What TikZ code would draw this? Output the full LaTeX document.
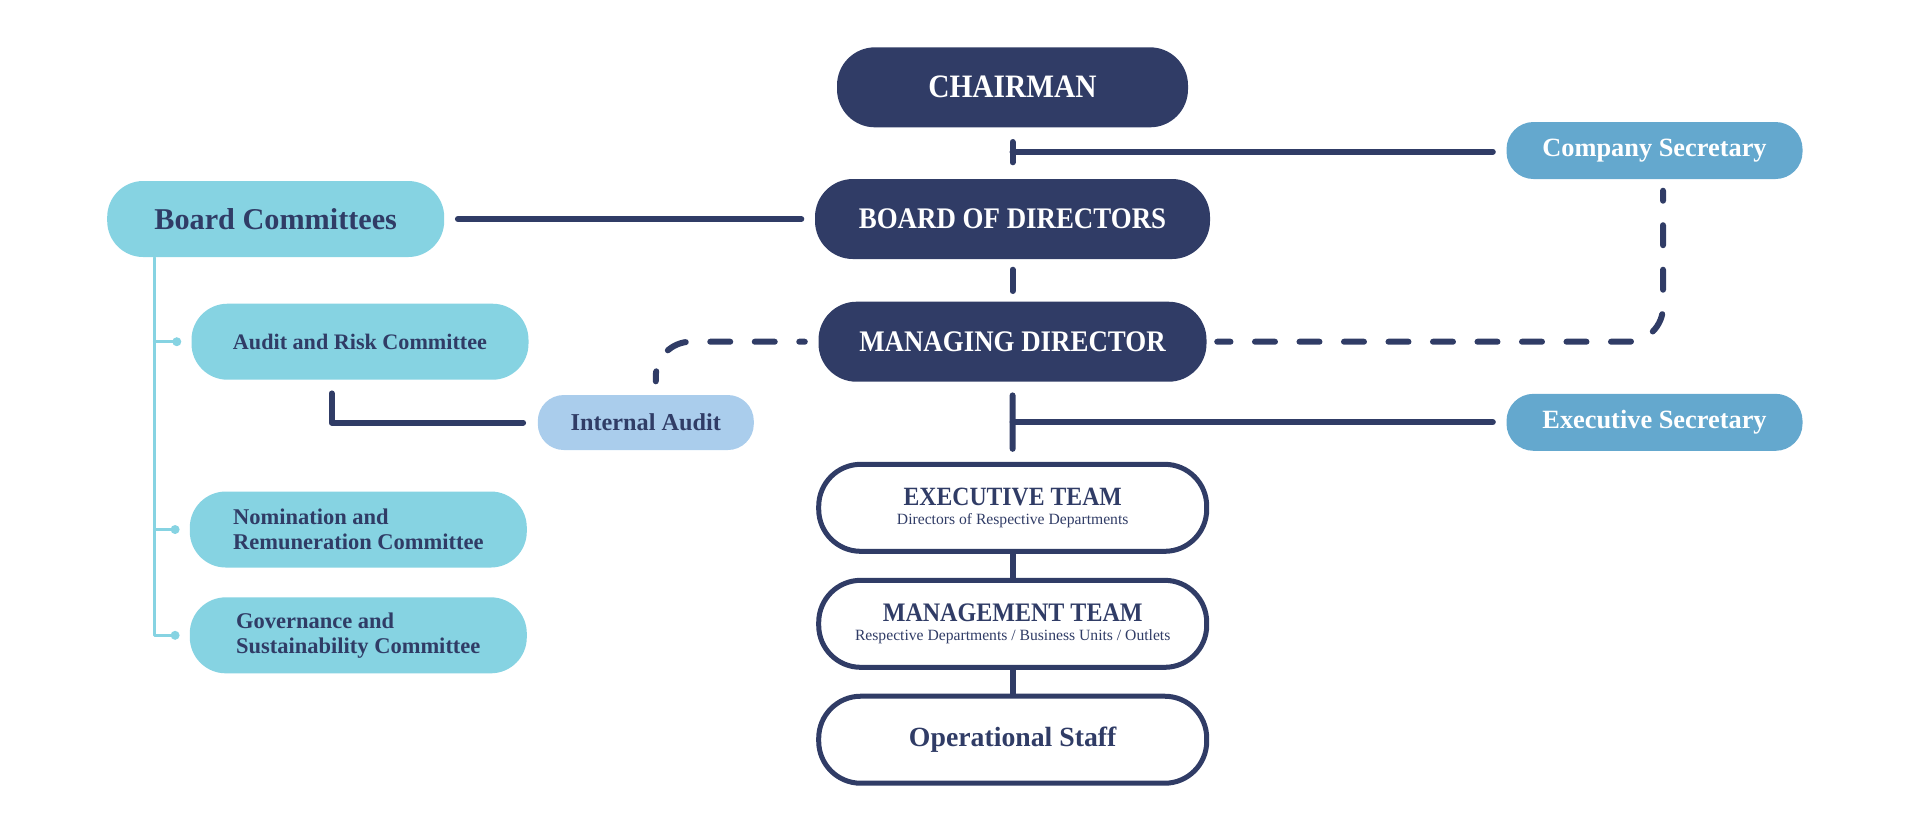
\documentclass[tikz,border=0pt]{standalone}
\usepackage{fontspec}
\setmainfont{Liberation Serif}
\newfontfamily\condfont{Liberation Serif}[FakeStretch=0.9]
\usetikzlibrary{calc}
\definecolor{navy}{HTML}{303C66}
\definecolor{aqua}{HTML}{86D3E2}
\definecolor{secblue}{HTML}{64A8CE}
\definecolor{audblue}{HTML}{AACDEC}
\begin{document}
\begin{tikzpicture}[line cap=round,line join=round,inner sep=0pt,
 chiefbox/.style={fill=navy,text=white,minimum height=0.8cm,rounded corners=0.38cm,font=\condfont\bfseries\fontsize{8.5}{10}\selectfont},
 commbox/.style={fill=aqua,text=navy,minimum width=3.37cm,minimum height=0.76cm,rounded corners=0.36cm,align=left,font=\bfseries\fontsize{6.4}{7.1}\selectfont},
 secbox/.style={fill=secblue,text=white,minimum width=2.96cm,minimum height=0.57cm,rounded corners=0.27cm,font=\bfseries\fontsize{7.5}{9}\selectfont},
 teambox/.style={draw=navy,line width=0.05cm,text=navy,minimum width=3.88cm,minimum height=0.87cm,rounded corners=0.42cm,align=center,font=\fontsize{4.45}{5.4}\selectfont},
 linkline/.style={navy,line width=0.06cm},
 dashline/.style={linkline,dash pattern=on 0.2cm off 0.245cm,dash phase=0.1cm,rounded corners=0.35cm},
 spineline/.style={aqua,line width=0.033cm}]
\useasboundingbox (0,0) rectangle (19.29,-8.36);
\node[chiefbox,minimum width=3.51cm,font=\condfont\bfseries\fontsize{9.3}{11}\selectfont] (chair) at (10.125,-0.873) {CHAIRMAN};
\node[chiefbox,minimum width=3.95cm] (bod) at (10.125,-2.19) {BOARD OF DIRECTORS};
\node[chiefbox,minimum width=3.88cm] (md) at (10.125,-3.417) {MANAGING DIRECTOR};
\node[secbox] (csec) at (16.545,-1.505) {Company Secretary};
\node[secbox] (esec) at (16.545,-4.223) {Executive Secretary};
\node[commbox,font=\bfseries\fontsize{8.6}{10}\selectfont] (bcom) at (2.757,-2.19) {Board Committees};
\node[commbox,font=\bfseries\fontsize{6.3}{7.1}\selectfont] (arc) at (3.60,-3.417) {Audit and Risk Committee};
\node[commbox] (nrc) at (3.583,-5.295) {Nomination and\\Remuneration Committee};
\node[commbox] (gsc) at (3.583,-6.353) {Governance and\\Sustainability Committee};
\node[commbox,fill=audblue,minimum width=2.16cm,minimum height=0.55cm,rounded corners=0.26cm,font=\bfseries\fontsize{6.9}{8}\selectfont] (ia) at (6.458,-4.225) {Internal Audit};
\node[teambox] (exec) at (10.127,-5.078) {{\condfont\bfseries\fontsize{7.5}{8}\selectfont EXECUTIVE TEAM}\\Directors of Respective Departments};
\node[teambox] (mgmt) at (10.127,-6.238) {{\condfont\bfseries\fontsize{7.6}{8}\selectfont MANAGEMENT TEAM}\\Respective Departments / Business Units / Outlets};
\node[teambox,font=\bfseries\fontsize{7.9}{9}\selectfont] (ops) at (10.127,-7.397) {Operational Staff};
\coordinate (cs) at ($(chair.south)!0.47!(bod.north)$);
\coordinate (es) at ($(md.south)!0.5!(exec.north)$);
\coordinate (ak) at ([xshift=-0.283cm,yshift=-0.13cm]arc.south);
\coordinate (sp) at ([xshift=0.48cm]bcom.south west);
\coordinate (dl) at ([xshift=0.1cm,yshift=0.13cm]ia.north);
\coordinate (dr) at ([xshift=0.085cm,yshift=-0.11cm]csec.south);
\draw[linkline,shorten <=0.13cm,shorten >=0.13cm] (bcom) -- (bod);
\draw[linkline,shorten <=0.14cm,shorten >=0.16cm] (chair) -- (bod);
\draw[linkline,shorten >=0.13cm] (cs) -- (cs -| csec.west);
\draw[linkline,shorten <=0.1cm,shorten >=0.1cm] (bod) -- (md);
\draw[linkline,shorten <=0.13cm,shorten >=0.13cm] (md) -- (exec);
\draw[linkline,shorten >=0.13cm] (es) -- (es -| esec.west);
\draw[linkline] (exec) -- (mgmt) (mgmt) -- (ops);
\draw[linkline,shorten <=0.14cm] (ia.west) -| (ak);
\draw[dashline,shorten >=0.13cm] (dl) |- (md.west);
\draw[dashline,shorten >=0.1cm] (dr) |- (md.east);
\draw[spineline] (sp) |- ([xshift=-0.14cm]gsc.west);
\foreach \n in {arc,nrc} \draw[spineline] (sp |- \n.west) -- ([xshift=-0.14cm]\n.west);
\foreach \n in {arc,nrc,gsc} \fill[aqua] ([xshift=-0.14cm]\n.west) circle (0.045);
\end{tikzpicture}
\end{document}
